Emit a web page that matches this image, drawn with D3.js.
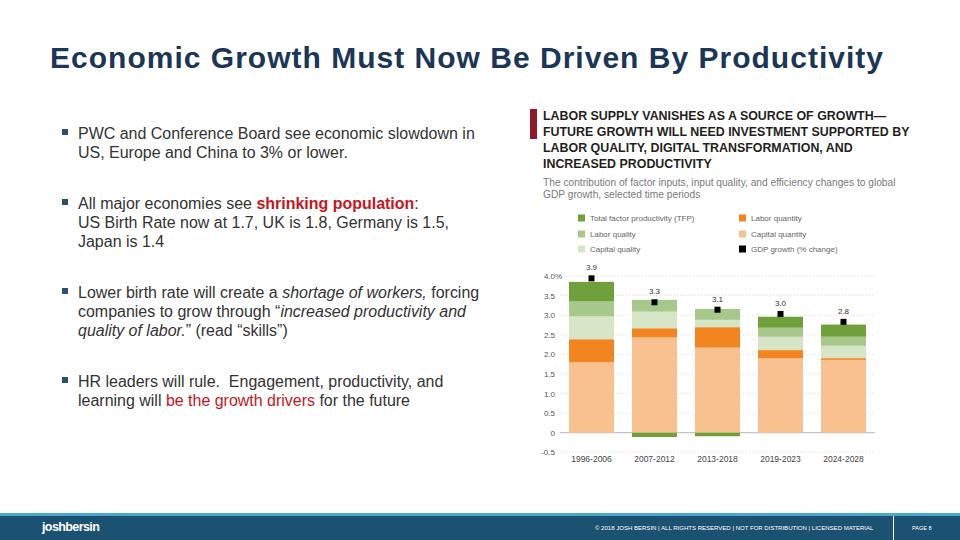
<!DOCTYPE html>
<html><head><meta charset="utf-8">
<script src="https://cdn.jsdelivr.net/npm/d3@7"></script>
<style>
html,body{margin:0;padding:0;background:#fff;}
svg{display:block;font-family:"Liberation Sans",Arial,sans-serif;}
</style></head>
<body>
<svg id="c" width="960" height="540"></svg>
<script>
// ---- DATA ----
const categories = ["1996-2006","2007-2012","2013-2018","2019-2023","2024-2028"];
const capitalQuantity = [1.80, 2.43, 2.17, 1.90, 1.86];
const laborQuantity   = [0.57, 0.22, 0.51, 0.20, 0.03];
const capitalQuality  = [0.60, 0.44, 0.20, 0.35, 0.33];
const laborQuality    = [0.38, 0.30, 0.28, 0.23, 0.23];
const tfp             = [0.50, -0.11, -0.09, 0.28, 0.31];
const gdpGrowth       = [3.94, 3.33, 3.14, 3.03, 2.83];
const gdpLabels       = ["3.9","3.3","3.1","3.0","2.8"];
const yTicks = [-0.5, 0, 0.5, 1.0, 1.5, 2.0, 2.5, 3.0, 3.5, 4.0];
const yTickLabels = ["-0.5","0","0.5","1.0","1.5","2.0","2.5","3.0","3.5","4.0"];
const seriesKeys = ["capitalQuantity","laborQuantity","capitalQuality","laborQuality","tfp"];
const seriesNames = {tfp:"Total factor productivity (TFP)", laborQuality:"Labor quality", capitalQuality:"Capital quality",
  laborQuantity:"Labor quantity", capitalQuantity:"Capital quantity"};
const colors = {tfp:"#6fa03a", laborQuality:"#a8c78a", capitalQuality:"#d6e5c6", laborQuantity:"#f2851f", capitalQuantity:"#f9c090"};

const svg = d3.select("#c");

// ---- slide title ----
const titleText = "Economic Growth Must Now Be Driven By Productivity";
const title = svg.append("text").attr("x",50).attr("y",68)
  .attr("fill","#1c3657").attr("font-size",30).attr("font-weight","bold")
  .text(titleText);
{ const w = title.node().getComputedTextLength(); title.attr("letter-spacing", (834-w)/(titleText.length)); }

// ---- bullets ----
const bullets = [
  {y:134, lines:[[["PWC and Conference Board see economic slowdown in",""]],[["US, Europe and China to 3% or lower.",""]]]},
  {y:204, lines:[[["All major economies see ",""],["shrinking population","b"],[":",""]],[["US Birth Rate now at 1.7, UK is 1.8, Germany is 1.5,",""]],[["Japan is 1.4",""]]]},
  {y:293, lines:[[["Lower birth rate will create a ",""],["shortage of workers,","i"],[" forcing",""]],[["companies to grow through \u201c",""],["increased productivity and","i"]],[["quality of labor.","i"],["\u201d (read \u201cskills\u201d)",""]]]},
  {y:382, lines:[[["HR leaders will rule.  Engagement, productivity, and",""]],[["learning will ",""],["be the growth drivers","r"],[" for the future",""]]]}
];
const bfs = 15;
const bulletG = svg.append("g");
bullets.forEach(b=>{
  bulletG.append("rect").attr("class","bul").attr("x",62).attr("y",b.y-5).attr("width",6).attr("height",6).attr("fill","#2b4f6e");
  b.lines.forEach((ln,i)=>{
    const t = bulletG.append("text").attr("x",78).attr("y",b.y+5+i*19).attr("fill","#333").attr("font-size",bfs).attr("xml:space","preserve");
    ln.forEach(([s,st])=>{
      const ts = t.append("tspan").text(s);
      if(st==="b") ts.attr("font-weight","bold").attr("fill","#c8161d");
      if(st==="i") ts.attr("font-style","italic");
      if(st==="r") ts.attr("fill","#c8161d");
    });
  });
});
{ const first = bulletG.select("text").node().getComputedTextLength();
  const sc = 397/first; bulletG.selectAll("text").attr("font-size", bfs*sc); }

// ---- chart header ----
svg.append("rect").attr("x",530).attr("y",109).attr("width",7).attr("height",30).attr("fill","#8e1a2c");
const hdr = ["LABOR SUPPLY VANISHES AS A SOURCE OF GROWTH\u2014","FUTURE GROWTH WILL NEED INVESTMENT SUPPORTED BY","LABOR QUALITY, DIGITAL TRANSFORMATION, AND","INCREASED PRODUCTIVITY"];
const hg = svg.append("g");
hdr.forEach((s,i)=>hg.append("text").attr("x",543).attr("y",120+i*16).attr("font-weight","bold").attr("font-size",12).attr("fill","#231f20").text(s));
{ const w = hg.selectAll("text").nodes()[1].getComputedTextLength(); hg.selectAll("text").attr("font-size",12*(910-543)/w); }
const sub = ["The contribution of factor inputs, input quality, and efficiency changes to global","GDP growth, selected time periods"];
const sg = svg.append("g");
sub.forEach((s,i)=>sg.append("text").attr("x",543).attr("y",186+i*12).attr("font-size",9).attr("fill","#7a7a7a").text(s));
{ const w = sg.select("text").node().getComputedTextLength(); sg.selectAll("text").attr("font-size",9*(896-543)/w); }

// ---- legend ----
const legendItems = [
  {k:"tfp",x:578,y:218},{k:"laborQuality",x:578,y:234},{k:"capitalQuality",x:578,y:249},
  {k:"laborQuantity",x:739,y:218},{k:"capitalQuantity",x:739,y:234},{k:"gdp",x:739,y:249}
];
const lg = svg.append("g");
legendItems.forEach(d=>{
  lg.append("rect").attr("x",d.x).attr("y",d.y-3.5).attr("width",7).attr("height",7).attr("fill", d.k==="gdp"?"#000":colors[d.k]);
  lg.append("text").attr("x",d.x+12).attr("y",d.y+3).attr("font-size",8).attr("fill","#666")
    .text(d.k==="gdp"?"GDP growth (% change)":seriesNames[d.k]);
});

// ---- chart ----
const x = d3.scaleBand().domain(categories).range([560,875]).paddingInner(0.286).paddingOuter(0.143);
const y = d3.scaleLinear().domain([-0.5,4.0]).range([452.3,276]);

const grid = svg.append("g");
yTicks.forEach((t,i)=>{
  grid.append("line").attr("x1", t===4.0?564:560).attr("x2",875).attr("y1",y(t)).attr("y2",y(t))
    .attr("stroke", t===0?"#b5b5b5":"#d3d3d3").attr("stroke-width",t===0?1:0.8)
    .attr("stroke-dasharray", t===0?null:"1,2");
  grid.append("text").attr("x",555).attr("y",y(t)+3).attr("text-anchor","end").attr("font-size",8).attr("fill","#555").text(yTickLabels[i]);
  if(t===4.0) grid.append("text").attr("x",555).attr("y",y(t)+3).attr("font-size",8).attr("fill","#555").text("%");
});

const rows = categories.map((c,i)=>({cat:c, capitalQuantity:capitalQuantity[i], laborQuantity:laborQuantity[i],
  capitalQuality:capitalQuality[i], laborQuality:laborQuality[i], tfp:tfp[i]}));
const stacked = d3.stack().keys(seriesKeys).offset(d3.stackOffsetDiverging)(rows);
svg.append("g").selectAll("g").data(stacked).join("g").attr("fill",d=>colors[d.key])
  .selectAll("rect").data(d=>d).join("rect")
  .attr("x",d=>x(d.data.cat)).attr("width",x.bandwidth())
  .attr("y",d=>y(Math.max(d[0],d[1]))).attr("height",d=>Math.abs(y(d[0])-y(d[1])));
svg.append("g").selectAll("line").data(rows).join("line")
  .attr("x1",d=>x(d.cat)).attr("x2",d=>x(d.cat)+x.bandwidth())
  .attr("y1",d=>y(d.capitalQuantity+d.laborQuantity)).attr("y2",d=>y(d.capitalQuantity+d.laborQuantity))
  .attr("stroke","#f2851f").attr("stroke-width",0.8);

// GDP markers
const mg = svg.append("g");
categories.forEach((c,i)=>{
  const cx = x(c)+x.bandwidth()/2;
  mg.append("rect").attr("x",cx-3).attr("y",y(gdpGrowth[i])-3).attr("width",6).attr("height",6).attr("fill","#000");
  mg.append("text").attr("x",cx).attr("y",y(gdpGrowth[i])-8).attr("text-anchor","middle").attr("font-size",8).attr("fill","#333").text(gdpLabels[i]);
});

// x labels
svg.append("g").selectAll("text").data(categories).join("text")
  .attr("x",d=>x(d)+x.bandwidth()/2).attr("y",462).attr("text-anchor","middle").attr("font-size",8.5).attr("fill","#444").text(d=>d);

// ---- footer ----
svg.append("rect").attr("x",0).attr("y",513).attr("width",960).attr("height",27).attr("fill","#1b5272");
svg.append("rect").attr("x",0).attr("y",513).attr("width",960).attr("height",3).attr("fill","#4aa6d2");
svg.append("text").attr("x",42).attr("y",531).attr("font-size",12.5).attr("font-weight","bold").attr("fill","#fff").attr("letter-spacing",-0.6).text("joshbersin");
const cp = svg.append("text").attr("x",595).attr("y",530).attr("font-size",5.5).attr("fill","#fff")
  .text("\u00a9 2018 JOSH BERSIN | ALL RIGHTS RESERVED | NOT FOR DISTRIBUTION | LICENSED MATERIAL");
{ const w = cp.node().getComputedTextLength(); cp.attr("font-size",5.5*(874-595)/w); }
svg.append("line").attr("x1",893.5).attr("x2",893.5).attr("y1",516).attr("y2",540).attr("stroke","#fff").attr("stroke-width",1);
svg.append("text").attr("x",912).attr("y",530).attr("font-size",5.5).attr("fill","#fff").text("PAGE 8");
</script>
</body></html>
